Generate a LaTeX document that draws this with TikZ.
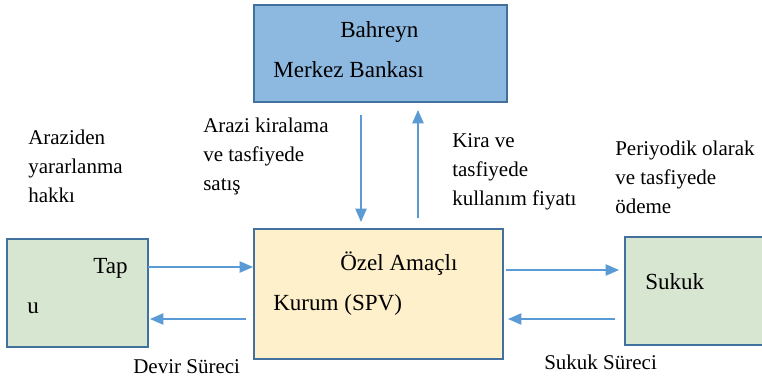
\documentclass[tikz,border=0pt]{standalone}
\usepackage{fontspec}
\setmainfont{Liberation Serif}
\usetikzlibrary{arrows.meta,positioning}
\definecolor{bankblue}{RGB}{141,185,224}
\definecolor{spvyellow}{RGB}{255,240,204}
\definecolor{tapugreen}{RGB}{214,230,208}
\definecolor{edgeblue}{RGB}{65,113,156}
\definecolor{flowblue}{RGB}{91,155,213}

\begin{document}
\begin{tikzpicture}[x=0.75pt,y=-0.75pt,
    box/.style={draw=edgeblue,line width=1.5pt,rectangle,inner sep=0pt,outer sep=0pt},
    flow/.style={draw=flowblue,line width=0.9pt,-{Triangle[length=10pt,width=8.5pt]}},
    lbl/.style={anchor=base west,inner sep=0pt,align=left,
      font=\fontsize{15.75}{21.75}\selectfont},
    boxtxt/.style={anchor=base west,inner sep=0pt,font=\fontsize{17.3}{20}\selectfont}]
        \useasboundingbox (0,0) rectangle (762,380);
        \clip (0,0) rectangle (762,380);
        \node[box,fill=bankblue,minimum width=189.75pt,minimum height=72.75pt]
          (bank) at (380.5,53.5) {};
        \node[box,fill=spvyellow,minimum width=186.75pt,minimum height=97.5pt]
          (spv) at (378.5,294) {};
        \node[box,fill=tapugreen,minimum width=105.75pt,minimum height=81pt]
          (tapu) at (77.5,293) {};
        \node[box,fill=tapugreen,minimum width=112.5pt,minimum height=81pt]
          (sukuk) at (700,291) {};
        \node[boxtxt] (bahreyn) at (340,37) {Bahreyn};
        \node[boxtxt] (merkez) at (273,77) {Merkez Bankası};
        \node[boxtxt] (ozel) at (340,270) {Özel Amaçlı};
        \node[boxtxt] (kurum) at (273,310) {Kurum (SPV)};
        \node[boxtxt] (tap) at (93,273) {Tap};
        \node[boxtxt] (tapuu) at (27,313) {u};
        \node[boxtxt] (sukukname) at (645,289) {Sukuk};
        \node[lbl] (hak) at (28,202) {Araziden\\yararlanma\\hakkı};
        \node[lbl] (kiralama) at (203,190) {Arazi kiralama\\ve tasfiyede\\satış};
        \node[lbl] (kira) at (452,205) {Kira ve\\tasfiyede\\kullanım fiyatı};
        \node[lbl] (odeme) at (615,213) {Periyodik olarak\\ve tasfiyede\\ödeme};
        \node[lbl] (devir) at (133,373) {Devir Süreci};
        \node[lbl] (sukuksureci) at (544,369) {Sukuk Süreci};
        \draw[flow,shorten >=0.75pt] (tapu.east |- 0,267) -- (spv.west |- 0,267);
        \draw[flow,shorten <=6pt,shorten >=1.5pt] (spv.west |- 0,319) -- (tapu.east |- 0,319);
        \draw[flow,shorten <=2.25pt,shorten >=4.5pt] (spv.east |- 0,270) -- (sukuk.west |- 0,270);
        \draw[flow,shorten <=7.5pt,shorten >=3.75pt] (sukuk.west |- 0,319) -- (spv.east |- 0,319);
        \draw[flow,shorten <=9.75pt,shorten >=5.25pt] (bank.south -| 361,0) -- (spv.north -| 361,0);
        \draw[flow,shorten <=8.25pt,shorten >=6pt] (spv.north -| 418,0) -- (bank.south -| 418,0);
      \end{tikzpicture}
\end{document}
